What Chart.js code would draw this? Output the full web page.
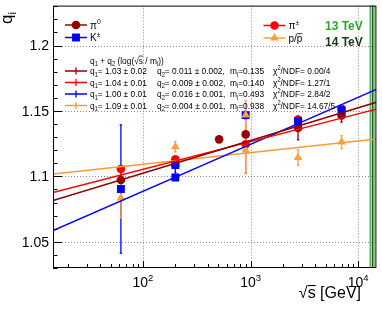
<!DOCTYPE html>
<html><head><meta charset="utf-8">
<script src="https://cdn.jsdelivr.net/npm/chart.js@4.4.0/dist/chart.umd.min.js"></script>
<style>html,body{margin:0;padding:0;background:#fff;overflow:hidden}#wrap{width:382px;height:312px;position:relative}</style>
</head><body><div id="wrap"><canvas id="c" width="382" height="312"></canvas></div>
<script>
// ---- data ----
const ePi0 = [62.4, 200, 510, 900, 2760, 7000];
const qPi0 = [1.0973, 1.1087, 1.1283, 1.1321, 1.1370, 1.1465];
const errPi0 = [0.002, 0.002, 0.002, 0.002, 0.009, 0.005];

const ePiCh = [62.4, 200, 900, 2760, 7000];
const qPiCh = [1.1057, 1.1131, 1.1245, 1.1435, 1.1517];
const errPiCh = [0.002, 0.002, 0.022, 0.002, 0.002];

const eK = [62.4, 200, 200, 900, 2760, 7000];
const qK = [1.0903, 1.1087, 1.0991, 1.1468, 1.1422, 1.1506];
const errK = [0.049, 0.006, 0.002, 0.003, 0.003, 0.003];

const eP = [62.4, 200, 900, 900, 2760, 7000];
const qP = [1.0834, 1.1227, 1.1470, 1.1202, 1.1145, 1.1262];
const errP = [0.015, 0.004, 0.011, 0.018, 0.006, 0.005];

const fitX = [14.6, 14750];
const fitPi0 = [1.0816, 1.1567];
const fitPiCh = [1.0877, 1.1514];
const fitK = [1.0586, 1.1665];
const fitP = [1.1019, 1.1285];

const fitLabels = [
  {q1:'1.03 \u00b1 0.02', q2:'0.011 \u00b1 0.002,', m:'0.135', chi:'0.00/4'},
  {q1:'1.04 \u00b1 0.01', q2:'0.009 \u00b1 0.002,', m:'0.140', chi:'1.27/1'},
  {q1:'1.00 \u00b1 0.01', q2:'0.016 \u00b1 0.001,', m:'0.493', chi:'2.84/2'},
  {q1:'1.09 \u00b1 0.01', q2:'0.004 \u00b1 0.001,', m:'0.938', chi:'14.67/5'}
];
const yTicks = [1.05, 1.1, 1.15, 1.2];
const yTickLabels = ['1.05', '1.1', '1.15', '1.2'];
const xTicks = [100, 1000, 10000];
const xTickExp = ['2', '3', '4'];
const energyLines = [13000, 13600, 14000];

// ---- styles ----
const C_PI0 = '#990000', C_PICH = '#ff0000', C_K = '#0000ff', C_P = '#ffa040', C_PLINE = '#ff9933';
const FF = '"Liberation Sans", Arial, Helvetica, sans-serif';
const fnt = (s, b) => (b ? 'bold ' : '') + s + 'px ' + FF;

function pts(xs, ys) { return xs.map((x, i) => ({x: x, y: ys[i]})); }

function rich(ctx, x, y, parts, fs, color, align, hs) {
  hs = hs || 1;
  ctx.save();
  ctx.fillStyle = color; ctx.strokeStyle = color;
  ctx.textBaseline = 'alphabetic'; ctx.textAlign = 'left';
  const sizes = parts.map(p => (p[1] === 1 || p[1] === 2) ? fs * 0.68 : fs);
  const widths = parts.map((p, i) => { ctx.font = fnt(sizes[i]); return ctx.measureText(p[0]).width; });
  const total = widths.reduce((a, b) => a + b, 0) * hs;
  let x0 = align === 'right' ? x - total : align === 'center' ? x - total / 2 : x;
  ctx.translate(x0, y); ctx.scale(hs, 1);
  let cx = 0;
  parts.forEach((p, i) => {
    const k = p[1] || 0;
    ctx.font = fnt(sizes[i]);
    const dy = k === 1 ? fs * 0.25 : k === 2 ? -fs * 0.42 : 0;
    ctx.fillText(p[0], cx, dy);
    if (k === 3) {
      ctx.lineWidth = Math.max(0.8, fs / 14);
      ctx.beginPath(); ctx.moveTo(cx, -fs * 0.78); ctx.lineTo(cx + widths[i], -fs * 0.78); ctx.stroke();
    }
    cx += widths[i];
  });
  ctx.restore();
  return total;
}

function marker(ctx, style, x, y, color, r) {
  ctx.save(); ctx.fillStyle = color; ctx.beginPath();
  if (style === 'circle') ctx.arc(x, y, r, 0, Math.PI * 2);
  else if (style === 'rect') ctx.rect(x - r * 0.7071, y - r * 0.7071, r * 1.4142, r * 1.4142);
  else { ctx.moveTo(x, y - r); ctx.lineTo(x + r * 0.866, y + r * 0.5); ctx.lineTo(x - r * 0.866, y + r * 0.5); ctx.closePath(); }
  ctx.fill(); ctx.restore();
}

const errSets = [
  {xs: eK, ys: qK, es: errK, c: C_K},
  {xs: ePiCh, ys: qPiCh, es: errPiCh, c: C_PICH},
  {xs: ePi0, ys: qPi0, es: errPi0, c: C_PI0},
  {xs: eP, ys: qP, es: errP, c: C_P}
];

const rootPlugin = {
  id: 'rootLook',
  beforeDatasetsDraw(chart) {
    const ctx = chart.ctx, a = chart.chartArea, xs = chart.scales.x, ys = chart.scales.y;
    ctx.save();
    // grid
    ctx.strokeStyle = '#8a8a8a'; ctx.lineWidth = 1; ctx.setLineDash([1, 2]);
    xTicks.forEach(v => { const px = Math.round(xs.getPixelForValue(v)) + 0.5; ctx.beginPath(); ctx.moveTo(px, a.top); ctx.lineTo(px, a.bottom); ctx.stroke(); });
    yTicks.forEach(v => { const py = Math.round(ys.getPixelForValue(v)) + 0.5; ctx.beginPath(); ctx.moveTo(a.left, py); ctx.lineTo(a.right, py); ctx.stroke(); });
    ctx.setLineDash([]);
    // energy lines
    const ecol = ['#5cb85c', '#1e3a1e', '#5cb85c'], ew = [2, 1, 1.6];
    energyLines.forEach((v, i) => { const px = xs.getPixelForValue(v); ctx.strokeStyle = ecol[i]; ctx.lineWidth = ew[i]; ctx.beginPath(); ctx.moveTo(px, a.top); ctx.lineTo(px, a.bottom); ctx.stroke(); });
    // error bars
    ctx.beginPath(); ctx.rect(a.left, a.top, a.right - a.left, a.bottom - a.top); ctx.clip();
    errSets.forEach(s => {
      ctx.strokeStyle = s.c; ctx.lineWidth = 1.3;
      s.xs.forEach((x, i) => {
        const px = xs.getPixelForValue(x), y1 = ys.getPixelForValue(s.ys[i] - s.es[i]), y2 = ys.getPixelForValue(s.ys[i] + s.es[i]);
        ctx.beginPath(); ctx.moveTo(px, y1); ctx.lineTo(px, y2); ctx.stroke();
        ctx.beginPath(); ctx.moveTo(px - 1.2, y1); ctx.lineTo(px + 1.2, y1); ctx.moveTo(px - 1.2, y2); ctx.lineTo(px + 1.2, y2); ctx.stroke();
      });
    });
    ctx.restore();
  },
  afterDraw(chart) {
    const ctx = chart.ctx, a = chart.chartArea, xs = chart.scales.x, ys = chart.scales.y;
    ctx.save();
    // frame
    ctx.strokeStyle = '#000'; ctx.lineWidth = 1;
    ctx.strokeRect(a.left + 0.5, a.top + 0.5, a.right - a.left - 1, a.bottom - a.top - 1);
    // x ticks
    ctx.beginPath();
    for (let d = 1; d <= 4; d++) {
      for (let m = 1; m <= 9; m++) {
        const v = m * Math.pow(10, d);
        if (v < xs.min || v > xs.max) continue;
        const px = Math.round(xs.getPixelForValue(v)) + 0.5;
        const L = m === 1 ? 7 : 4;
        ctx.moveTo(px, a.bottom); ctx.lineTo(px, a.bottom - L);
      }
    }
    // y ticks
    for (let k = 103; k <= 123; k++) {
      const v = k / 100;
      if (v < ys.min || v > ys.max) continue;
      const py = Math.round(ys.getPixelForValue(v)) + 0.5;
      const L = (k % 5 === 0) ? 9 : 4.5;
      ctx.moveTo(a.left, py); ctx.lineTo(a.left + L, py);
    }
    ctx.stroke();
    // y tick labels
    ctx.fillStyle = '#000'; ctx.font = fnt(14); ctx.textAlign = 'right'; ctx.textBaseline = 'middle';
    yTicks.forEach((v, i) => ctx.fillText(yTickLabels[i], 49, ys.getPixelForValue(v) + 1));
    // x tick labels
    xTicks.forEach((v, i) => rich(ctx, xs.getPixelForValue(v), 287, [['10'], [xTickExp[i], 2]], 14, '#000', 'center'));
    // x title
    rich(ctx, 361, 298, [['\u221a'], ['s', 3], [' [GeV]']], 16, '#000', 'right');
    // y title (rotated)
    ctx.save(); ctx.translate(12, 24); ctx.rotate(-Math.PI / 2);
    rich(ctx, 0, 0, [['q'], ['i', 1]], 17, '#000', 'left');
    ctx.restore();

    // legends
    const leg = [
      {x: 76, y: 25, c: C_PI0, s: 'circle', r: 4.3, t: [['\u03c0'], ['0', 2]]},
      {x: 76, y: 37.5, c: C_K, s: 'rect', r: 5.6, t: [['K'], ['\u00b1', 2]]},
      {x: 274.5, y: 25.5, c: C_PICH, s: 'circle', r: 4.3, t: [['\u03c0'], ['\u00b1', 2]]},
      {x: 274.5, y: 38, c: C_P, s: 'tri', r: 5, t: [['p/'], ['p', 3]]}
    ];
    leg.forEach(l => {
      ctx.strokeStyle = l.c; ctx.lineWidth = 1.5;
      ctx.beginPath(); ctx.moveTo(l.x - 11, l.y); ctx.lineTo(l.x + 11, l.y); ctx.stroke();
      marker(ctx, l.s, l.x, l.y, l.c, l.r);
      rich(ctx, l.x + 14, l.y + 3.5, l.t, 10, '#000', 'left');
    });
    ctx.font = fnt(12, true); ctx.textAlign = 'left'; ctx.textBaseline = 'middle';
    ctx.fillStyle = '#2ea52e'; ctx.fillText('13 TeV', 325, 26.5);
    ctx.fillStyle = '#173d17'; ctx.fillText('14 TeV', 325, 42.5);

    // fit text block
    const fs = 9.5, hs = 0.88;
    rich(ctx, 90, 63.5, [['q'], ['1', 1], [' + q'], ['2', 1], [' (log('], ['\u221a'], ['s', 3], [' / m'], ['i', 1], ['))']], fs, '#000', 'left', hs);
    const fcol = [C_PI0, C_PICH, C_K, C_PLINE];
    const rowY = [71, 82.5, 94, 105.5];
    fitLabels.forEach((f, i) => {
      const y = rowY[i];
      ctx.strokeStyle = fcol[i]; ctx.lineWidth = 1.3;
      ctx.beginPath(); ctx.moveTo(65, y); ctx.lineTo(87, y); ctx.moveTo(76, y - 3.5); ctx.lineTo(76, y + 3.5); ctx.stroke();
      const by = y + 3.3;
      rich(ctx, 90, by, [['q'], ['1', 1], ['= ' + f.q1]], fs, '#000', 'left', hs);
      rich(ctx, 157, by, [['q'], ['2', 1], ['= ' + f.q2]], fs, '#000', 'left', hs);
      rich(ctx, 230, by, [['m'], ['i', 1], ['=' + f.m]], fs, '#000', 'left', hs);
      rich(ctx, 273, by, [['\u03c7'], ['2', 2], ['/NDF= ' + f.chi]], fs, '#000', 'left', hs);
    });
    ctx.restore();
  }
};

const lineDs = (data, color, order) => ({type: 'line', data: data, borderColor: color, borderWidth: 1.5, pointRadius: 0, showLine: true, fill: false, order: order, tension: 0});
const ptDs = (data, color, style, r, order) => ({data: data, backgroundColor: color, borderColor: color, borderWidth: 0, pointStyle: style, pointRadius: r, order: order});

new Chart(document.getElementById('c'), {
  type: 'scatter',
  data: {
    datasets: [
      ptDs(pts(ePiCh, qPiCh), C_PICH, 'circle', 4.3, 5),
      ptDs(pts(ePi0, qPi0), C_PI0, 'circle', 4.3, 4),
      ptDs(pts(eK, qK), C_K, 'rect', 5.6, 3),
      ptDs(pts(eP, qP), C_P, 'triangle', 5, 2),
      lineDs(pts(fitX, fitPi0), '#8b0000', 1),
      lineDs(pts(fitX, fitPiCh), '#ff0000', 1),
      lineDs(pts(fitX, fitK), '#0000ff', 1),
      lineDs(pts(fitX, fitP), C_PLINE, 1)
    ]
  },
  options: {
    responsive: false, animation: false, devicePixelRatio: 1,
    layout: {padding: {left: 53, right: 4, top: 5, bottom: 44}},
    plugins: {legend: {display: false}, tooltip: {enabled: false}},
    scales: {
      x: {type: 'logarithmic', min: 14.6, max: 14750, display: false},
      y: {type: 'linear', min: 1.03, max: 1.2305, display: false}
    }
  },
  plugins: [rootPlugin]
});
</script>
</body></html>
